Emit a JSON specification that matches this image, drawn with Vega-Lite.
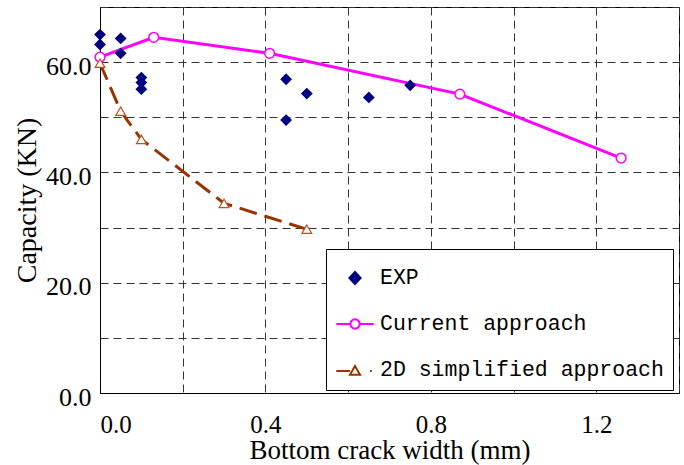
{
  "$schema": "https://vega.github.io/schema/vega-lite/v6.json",
  "width": 579,
  "height": 386,
  "autosize": {"type": "none"},
  "padding": {"left": 100, "top": 7, "right": 5, "bottom": 72},
  "background": "white",
  "config": {
    "view": {"stroke": "black", "strokeWidth": 1},
    "axis": {
      "domainColor": "black", "domainWidth": 1, "ticks": false,
      "grid": true, "gridColor": "#333333", "gridDash": [8, 5], "gridWidth": 1, "gridOpacity": 1,
      "labelFont": "Liberation Serif", "labelFontSize": 26, "labelColor": "black",
      "titleFont": "Liberation Serif", "titleFontSize": 27, "titleFontWeight": "normal", "titleColor": "black"
    }
  },
  "data": {
    "values": [
      {"series": "EXP", "x": 0.0, "y": 65.0},
      {"series": "EXP", "x": 0.0, "y": 63.2},
      {"series": "EXP", "x": 0.05, "y": 64.3},
      {"series": "EXP", "x": 0.05, "y": 61.6},
      {"series": "EXP", "x": 0.1, "y": 57.2},
      {"series": "EXP", "x": 0.1, "y": 56.3},
      {"series": "EXP", "x": 0.1, "y": 55.1},
      {"series": "EXP", "x": 0.45, "y": 56.9},
      {"series": "EXP", "x": 0.45, "y": 49.5},
      {"series": "EXP", "x": 0.5, "y": 54.3},
      {"series": "EXP", "x": 0.65, "y": 53.6},
      {"series": "EXP", "x": 0.75, "y": 55.8},
      {"series": "Current approach", "x": 0.0, "y": 60.9},
      {"series": "Current approach", "x": 0.13, "y": 64.5},
      {"series": "Current approach", "x": 0.41, "y": 61.6},
      {"series": "Current approach", "x": 0.87, "y": 54.2},
      {"series": "Current approach", "x": 1.26, "y": 42.6},
      {"series": "2D simplified approach", "x": 0.0, "y": 59.8},
      {"series": "2D simplified approach", "x": 0.05, "y": 51.1},
      {"series": "2D simplified approach", "x": 0.1, "y": 46.0},
      {"series": "2D simplified approach", "x": 0.3, "y": 34.4},
      {"series": "2D simplified approach", "x": 0.5, "y": 29.7}
    ]
  },
  "encoding": {
    "x": {
      "field": "x", "type": "quantitative",
      "scale": {"domain": [0, 1.4], "nice": false, "zero": false},
      "axis": {
        "title": "Bottom crack width (mm)",
        "values": [0, 0.2, 0.4, 0.6, 0.8, 1.0, 1.2, 1.4],
        "labelExpr": "(round(datum.value*10) % 4 == 0 && datum.value < 1.3) ? format(datum.value, '.1f') : ''",
        "labelFlush": true,
        "labelFontSize": 25,
        "labelPadding": 19,
        "titlePadding": 0
      }
    },
    "y": {
      "field": "y", "type": "quantitative",
      "scale": {"domain": [0, 70], "nice": false},
      "axis": {
        "title": "Capacity (KN)",
        "titleFontSize": 28,
        "values": [0, 10, 20, 30, 40, 50, 60, 70],
        "labelExpr": "(round(datum.value) % 20 == 0 && datum.value < 65) ? format(datum.value, '.1f') : ''",
        "labelPadding": 9,
        "labelOffset": 4,
        "titlePadding": 4
      }
    },
    "color": {
      "field": "series", "type": "nominal",
      "scale": {"domain": ["EXP", "Current approach", "2D simplified approach"], "range": ["#000080", "#FF00FF", "#993300"]},
      "legend": {
        "orient": "none", "legendX": 226, "legendY": 242, "title": null,
        "fillColor": "white", "strokeColor": "black",
        "padding": 9, "rowPadding": 15,
        "labelFont": "Liberation Mono", "labelFontSize": 21.5, "labelColor": "black",
        "labelOffset": 5, "labelLimit": 400, "symbolSize": 1400,
        "symbolStrokeWidth": 2, "symbolOpacity": 1, "symbolFillColor": "white"
      }
    }
  },
  "layer": [
    {
      "mark": {"type": "point", "filled": false, "fill": "white", "opacity": 0, "strokeWidth": 2},
      "encoding": {
        "shape": {
          "field": "series", "type": "nominal",
          "scale": {
            "domain": ["EXP", "Current approach", "2D simplified approach"],
            "range": [
              "M0,-0.32L0.3,0L0,0.32L-0.3,0Z M0,-0.21L0.2,0L0,0.21L-0.2,0Z M0,-0.1L0.1,0L0,0.1L-0.1,0Z",
              "M-1,0L-0.25,0M0.25,0L1,0M-0.25,0A0.25,0.25 0 1 0 0.25,0A0.25,0.25 0 1 0 -0.25,0Z",
              "M-1,0.05L-0.27,0.05M0.8,0.05L0.9,0.05M0,-0.22L0.27,0.25L-0.27,0.25Z"
            ]
          },
          "legend": {
            "orient": "none", "legendX": 226, "legendY": 242, "title": null,
            "fillColor": "white", "strokeColor": "black",
            "padding": 9, "rowPadding": 15,
            "labelFont": "Liberation Mono", "labelFontSize": 21.5, "labelColor": "black",
            "labelOffset": 5, "labelLimit": 400, "symbolSize": 1400,
            "symbolStrokeWidth": 2, "symbolOpacity": 1, "symbolFillColor": "white"
          }
        }
      }
    },
    {
      "transform": [{"filter": "datum.series === 'Current approach'"}],
      "mark": {"type": "line", "strokeWidth": 3}
    },
    {
      "transform": [{"filter": "datum.series === '2D simplified approach'"}],
      "mark": {"type": "line", "strokeWidth": 3, "strokeDash": [18, 8]}
    },
    {
      "transform": [{"filter": "datum.series === 'EXP'"}],
      "mark": {"type": "point", "shape": "diamond", "filled": true, "size": 140, "opacity": 1},
      "encoding": {"color": {"value": "#000080"}}
    },
    {
      "transform": [{"filter": "datum.series === 'Current approach'"}],
      "mark": {"type": "point", "shape": "circle", "filled": false, "fill": "white", "size": 95, "strokeWidth": 1.5, "opacity": 1}
    },
    {
      "transform": [{"filter": "datum.series === '2D simplified approach'"}],
      "mark": {"type": "point", "shape": "triangle-up", "filled": false, "fill": "white", "size": 95, "strokeWidth": 1.2, "opacity": 1},
      "encoding": {"color": {"value": "#C0501E"}}
    }
  ]
}
